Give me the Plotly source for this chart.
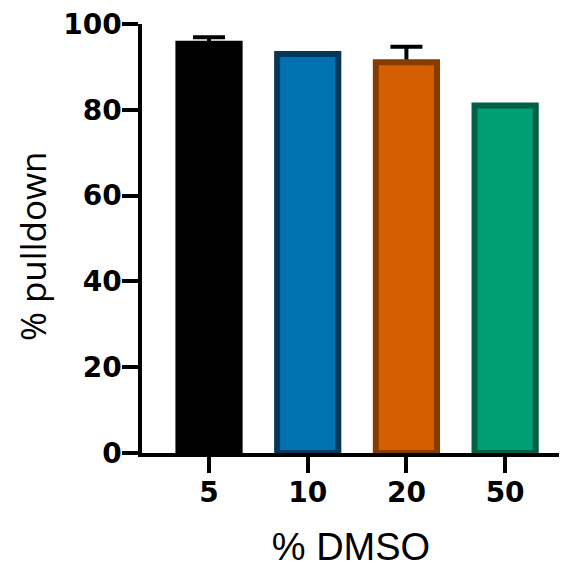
import plotly.graph_objects as go

categories = ["5", "10", "20", "50"]
values = [95.4, 93.0, 91.1, 81.0]
errors = [1.5, 0.0, 3.6, 0.0]
fill_colors = ["#000000", "#0072B2", "#D55E00", "#009E73"]
edge_colors = ["#000000", "#04385A", "#863C00", "#005F47"]
y_ticks = [0, 20, 40, 60, 80, 100]

fig = go.Figure()
# error bars first (transparent bars), then real bars on top hide the lower part
fig.add_trace(go.Bar(
    x=categories,
    y=values,
    width=0.62,
    marker=dict(color="rgba(0,0,0,0)", line=dict(width=0)),
    error_y=dict(type="data", symmetric=True, array=errors,
                 color="#000000", thickness=4, width=16),
    showlegend=False, hoverinfo="skip",
))
fig.add_trace(go.Bar(
    x=categories,
    y=values,
    width=0.62,
    marker=dict(color=fill_colors, line=dict(color=edge_colors, width=6)),
    showlegend=False,
))

# page body has an 8px margin, so the figure is offset by 8px
fig.update_layout(
    width=559, height=560,
    margin=dict(l=134, r=7, t=16, b=115),
    barmode="overlay",
    plot_bgcolor="white", paper_bgcolor="white",
    font=dict(family="Liberation Sans, Arial", color="#000000"),
    annotations=[dict(
        text="% pulldown", textangle=-90,
        xref="paper", yref="paper", x=-0.263, y=0.4825,
        xanchor="center", yanchor="middle", showarrow=False,
        font=dict(size=35, family="Open Sans, Arial", color="#000000"),
    )],
)
tick_font = dict(size=28, family="DejaVu Sans", weight="bold")
fig.update_xaxes(
    type="category",
    range=[-0.679, 3.556],
    automargin=False,
    showline=True, linecolor="#000000", linewidth=3.5,
    ticks="outside", ticklen=16, tickwidth=3.5, tickcolor="#000000",
    ticklabelstandoff=-4,
    ticklabeloverflow="allow",
    tickfont=tick_font,
    title=dict(text="% DMSO", font=dict(size=38, family="Liberation Sans, Arial"), standoff=35),
    showgrid=False, zeroline=False,
)
fig.update_yaxes(
    range=[0, 100],
    tickvals=y_ticks,
    automargin=False,
    showline=True, linecolor="#000000", linewidth=3.5,
    ticks="outside", ticklen=16, tickwidth=3.5, tickcolor="#000000",
    ticklabelstandoff=-5,
    ticklabeloverflow="allow",
    tickfont=tick_font,
    showgrid=False, zeroline=False,
)

fig.write_html("out.html")
